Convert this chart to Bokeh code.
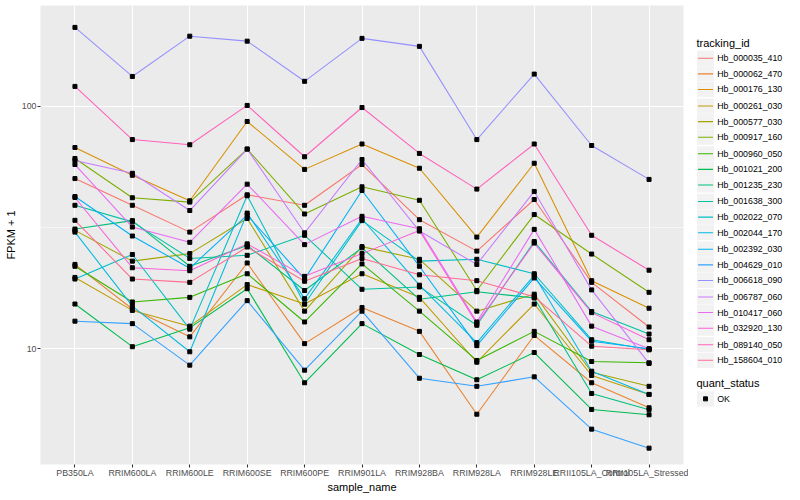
from bokeh.plotting import figure
from bokeh.layouts import row
from bokeh.models import Range1d, FixedTicker, BasicTickFormatter
from bokeh.core.properties import value
from bokeh.embed import file_html
from bokeh.resources import INLINE

samples = ["PB350LA", "RRIM600LA", "RRIM600LE", "RRIM600SE", "RRIM600PE", "RRIM901LA",
           "RRIM928BA", "RRIM928LA", "RRIM928LE", "RRII105LA_Control", "RRII105LA_Stressed"]

tracking_ids = ["Hb_000035_410", "Hb_000062_470", "Hb_000176_130", "Hb_000261_030", "Hb_000577_030",
                "Hb_000917_160", "Hb_000960_050", "Hb_001021_200", "Hb_001235_230", "Hb_001638_300",
                "Hb_002022_070", "Hb_002044_170", "Hb_002392_030", "Hb_004629_010", "Hb_006618_090",
                "Hb_006787_060", "Hb_010417_060", "Hb_032920_130", "Hb_089140_050", "Hb_158604_010"]

colors = ["#F8766D", "#EA8331", "#D89000", "#C09B00", "#A3A500", "#7CAE00", "#39B600", "#00BB4E",
          "#00BF7D", "#00C1A3", "#00BFC4", "#00BAE0", "#00B0F6", "#35A2FF", "#9590FF", "#C77CFF",
          "#E76BF3", "#FA62DB", "#FF62BC", "#FF6C91"]

hb_000035_410 = [50.4, 39.1, 30.3, 43.2, 39.1, 57.6, 34.1, 25.3, 41.3, 18.8, 12.3]
hb_000062_470 = [22.3, 14.6, 11.2, 22.6, 10.5, 14.8, 11.8, 5.37, 11.35, 7.24, 5.71]
hb_000176_130 = [67.7, 52.0, 40.8, 86.7, 55.0, 70.0, 55.6, 28.9, 58.3, 19.1, 14.7]
hb_000261_030 = [19.7, 14.4, 12.4, 18.4, 15.3, 20.4, 16.3, 8.8, 15.3, 7.76, 6.48]
hb_000577_030 = [30.8, 23.0, 24.7, 34.5, 14.3, 26.4, 23.4, 14.3, 16.8, 8.0, 7.0]
hb_000917_160 = [61.0, 42.0, 40.3, 66.7, 36.0, 46.6, 41.0, 17.4, 35.8, 24.6, 17.1]
hb_000960_050 = [21.9, 15.6, 16.3, 20.4, 12.9, 22.4, 14.3, 8.95, 11.8, 8.86, 8.75]
hb_001021_200 = [15.3, 10.2, 12.2, 17.7, 7.24, 12.7, 9.47, 7.45, 9.65, 5.62, 5.34]
hb_001235_230 = [31.2, 33.8, 21.9, 26.7, 17.4, 26.1, 16.0, 17.2, 16.2, 6.54, 5.6]
hb_001638_300 = [39.1, 33.4, 23.6, 24.3, 29.4, 17.6, 18.0, 12.5, 27.7, 14.25, 11.5]
hb_002022_070 = [19.4, 24.5, 12.05, 42.8, 15.3, 33.8, 23.0, 23.4, 20.4, 10.9, 9.93]
hb_002044_170 = [30.3, 15.0, 9.72, 36.3, 16.1, 34.4, 18.3, 10.6, 20.1, 8.08, 6.48]
hb_002392_030 = [42.5, 29.2, 21.5, 35.6, 19.4, 45.0, 21.9, 10.3, 19.6, 10.75, 10.0]
hb_004629_010 = [13.0, 12.7, 8.56, 15.8, 8.16, 14.3, 7.56, 7.0, 7.66, 4.66, 3.89]
hb_006618_090 = [212, 133, 195, 186, 127, 191, 177, 73, 136, 69, 50]
hb_006787_060 = [59.8, 53.0, 37.2, 66.7, 30.1, 60.4, 30.6, 22.3, 44.6, 17.5, 8.7]
hb_010417_060 = [57.6, 31.8, 27.5, 47.8, 26.9, 35.2, 31.3, 12.9, 31.1, 12.4, 10.0]
hb_032920_130 = [42.1, 21.6, 21.0, 27.1, 19.9, 24.7, 30.8, 12.7, 27.3, 14.1, 10.9]
hb_089140_050 = [121, 73, 69.5, 101, 62, 99, 64, 45.6, 70, 29.4, 21.1]
hb_158604_010 = [33.9, 19.4, 18.8, 26.3, 19.0, 23.6, 20.2, 19.1, 16.4, 10.25, 9.9]

series = [hb_000035_410, hb_000062_470, hb_000176_130, hb_000261_030, hb_000577_030,
          hb_000917_160, hb_000960_050, hb_001021_200, hb_001235_230, hb_001638_300,
          hb_002022_070, hb_002044_170, hb_002392_030, hb_004629_010, hb_006618_090,
          hb_006787_060, hb_010417_060, hb_032920_130, hb_089140_050, hb_158604_010]

quant_status = ["OK"]

FONT = "Liberation Sans"

p = figure(x_range=samples, y_axis_type="log", y_range=Range1d(3.33, 261),
           width=688, height=500, output_backend="svg", toolbar_location=None,
           min_border_left=40, min_border_right=5, min_border_top=5, min_border_bottom=36,
           background_fill_color="#EBEBEB", border_fill_color="white", outline_line_color=None)
p.x_range.range_padding = 0.1
p.x_range.range_padding_units = "absolute"

for vals, col in zip(series, colors):
    p.line(x=samples, y=vals, line_color=col, line_width=1.07)

px, py = [], []
for vals in series:
    px.extend(samples)
    py.extend(vals)
p.scatter(x=px, y=py, marker="square", size=4, fill_color="black", line_color="black")

# grids
p.xgrid.grid_line_color = "white"
p.xgrid.grid_line_width = 1.07
p.ygrid.ticker = FixedTicker(ticks=[10, 100], minor_ticks=[3.1623, 31.623, 316.23])
p.ygrid.grid_line_color = "white"
p.ygrid.grid_line_width = 1.07
p.ygrid.minor_grid_line_color = "white"
p.ygrid.minor_grid_line_width = 0.55

# axes
p.yaxis.ticker = FixedTicker(ticks=[10, 100], minor_ticks=[])
p.yaxis.formatter = BasicTickFormatter()
for ax in (p.xaxis[0], p.yaxis[0]):
    ax.axis_line_color = None
    ax.major_tick_line_color = "#333333"
    ax.major_tick_line_width = 1.07
    ax.major_tick_out = 3
    ax.major_tick_in = 0
    ax.minor_tick_line_color = None
    ax.major_label_text_font = FONT
    ax.major_label_text_font_size = "8.8px"
    ax.major_label_text_color = "#4D4D4D"
    ax.axis_label_text_font = FONT
    ax.axis_label_text_font_size = "11px"
    ax.axis_label_text_font_style = "normal"
    ax.axis_label_text_color = "black"
p.xaxis.major_label_standoff = 0
p.xaxis.axis_label_standoff = 0
p.yaxis.major_label_standoff = 1
p.yaxis.axis_label_standoff = 2
p.xaxis.axis_label = "sample_name"
p.yaxis.axis_label = "FPKM + 1"

# legend panel
L = figure(width=112, height=500, x_range=Range1d(0, 112), y_range=Range1d(500, 0),
           output_backend="svg", toolbar_location=None, min_border=0,
           x_axis_type=None, y_axis_type=None, outline_line_color=None,
           background_fill_color="white", border_fill_color="white")
L.xgrid.visible = False
L.ygrid.visible = False

step = 17.33
y0 = 56.7
ys = [round(y0 + i * step) + 0.5 for i in range(len(tracking_ids))]
L.rect(x=[17] * len(ys), y=ys, width=17, height=16.6, fill_color="#F2F2F2", line_color=None)
L.segment(x0=[9.5] * len(ys), x1=[24.5] * len(ys), y0=ys, y1=ys, line_color=colors, line_width=1.1)
L.text(x=[28.7] * len(ys), y=ys, text=tracking_ids, text_font=value(FONT), text_font_size=value("8.8px"),
       text_baseline="middle", text_align="left", text_color="black")
L.text(x=[8], y=[40.7], text=["tracking_id"], text_font=value(FONT), text_font_size=value("11px"),
       text_baseline="middle", text_align="left", text_color="black")
L.text(x=[8], y=[411.7], text=["quant_status"], text_font=value(FONT), text_font_size=value("11px"),
       text_baseline="middle", text_align="left", text_color="black")
L.rect(x=[17], y=[428.5], width=17, height=16.6, fill_color="#F2F2F2", line_color=None)
L.scatter(x=[17], y=[428.5], marker="square", size=4, fill_color="black", line_color="black")
L.text(x=[28.7], y=[428.5], text=quant_status, text_font=value(FONT), text_font_size=value("8.8px"),
       text_baseline="middle", text_align="left", text_color="black")

layout = row(p, L, spacing=0)
open("out.html", "w").write(file_html(layout, INLINE))
